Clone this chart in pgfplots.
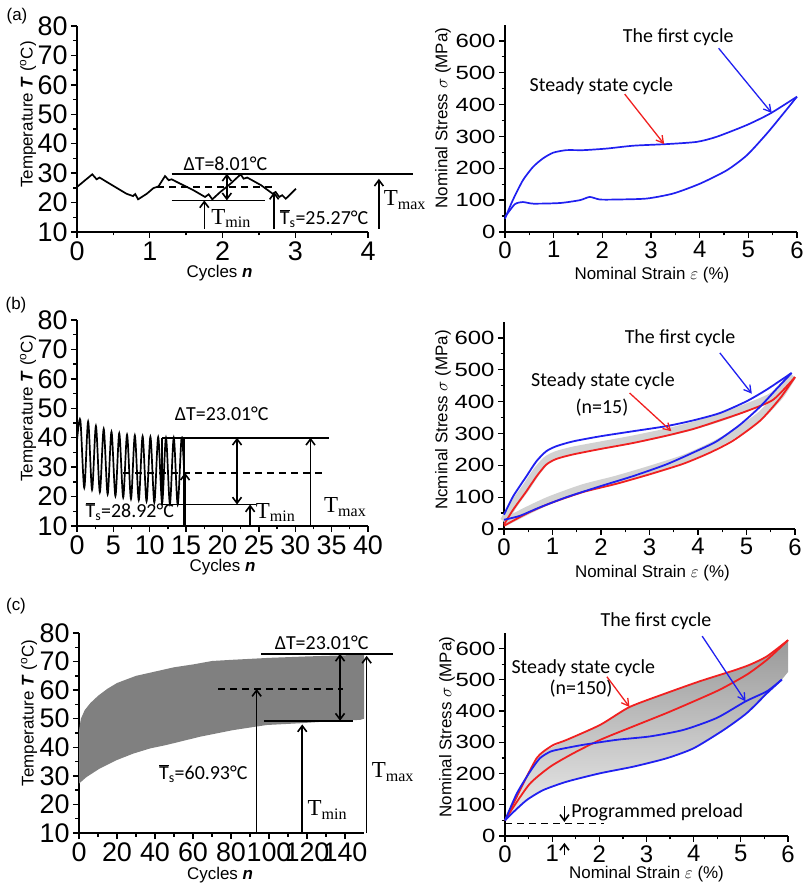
\documentclass[border=0pt]{standalone}
\usepackage{fontspec}
\setmainfont{Liberation Sans}
\newfontfamily\calib{Carlito}
\newfontfamily\tms{Liberation Serif}
\usepackage{pgfplots}
\pgfplotsset{compat=1.18}
\usetikzlibrary{arrows.meta}
\definecolor{cblue}{HTML}{2020F0}
\definecolor{cred}{HTML}{F02020}

\pgfplotsset{
  panel/.style={scale only axis, axis x line*=bottom, axis y line*=left,
    axis line style={line width=1.9bp,-}, tick align=outside,
    major tick length=6bp, minor tick length=3.5bp, minor tick num=1,
    every tick/.style={black, line width=1.3bp},
    /pgf/number format/assume math mode=true,
    clip=false, label style={font=\fontsize{17}{19}\selectfont}},
  tpanel/.style={panel, ymin=10, ymax=80, ytick={10,20,...,80},
    tick label style={font=\fontsize{27}{27}\selectfont},
    ylabel={Temperature \textbf{\textit{T}} (\textsuperscript{o}C)},
    xlabel={Cycles \textbf{\textit{n}}}},
  spanel/.style={panel, xmin=0, xmax=6, ymin=0, ymax=650,
    ytick={0,100,...,600}, xtick={0,...,6},
    xticklabel style={font=\fontsize{24}{24}\selectfont},
    yticklabel style={font=\fontsize{24}{24}\selectfont, yscale=0.8},
    xlabel={Nominal Strain $\varepsilon$ (\%)}},
}
\tikzset{
  ann/.style={font=\calib\fontsize{20}{22}\selectfont},
  tt/.style={font=\tms\fontsize{23}{25}\selectfont},
  ln/.style={line width=1.7bp},
  dsh/.style={line width=1.7bp, dash pattern=on 7bp off 5bp},
  up/.style={line width=1.6bp, -{Straight Barb[length=6bp,width=9bp]}},
  dbl/.style={line width=1.6bp, {Straight Barb[length=6bp,width=9bp]}-{Straight Barb[length=6bp,width=9bp]}},
  carr/.style={line width=1.3bp, -{Straight Barb[length=7bp,width=8bp]}},
}

\begin{document}
\begin{tikzpicture}
\useasboundingbox (0,0) rectangle (803bp,888bp);

\node[font=\fontsize{17}{19}\selectfont] at (17bp,872bp) {(a)};
\node[font=\fontsize{17}{19}\selectfont] at (16bp,583bp) {(b)};
\node[font=\fontsize{17}{19}\selectfont] at (16bp,282bp) {(c)};

% (a) temperature
\begin{axis}[tpanel, at={(77bp,656bp)}, anchor=south west, width=291bp, height=206bp,
  xmin=0, xmax=4, xtick={0,...,4},
  ylabel style={at={(axis description cs:-0.168,0.57)}, anchor=center},
  xlabel style={at={(axis description cs:0.49,-0.2)}, anchor=center}]
\addplot[ln, black] coordinates {(0,25.3)(0.21,29.6)(0.27,27.9)(0.31,28.5)(0.45,26.4)(0.68,23.0)(0.77,22.2)(0.80,22.9)(0.84,21.1)(0.96,23.0)(1.05,24.9)(1.12,25.5)(1.21,29.0)(1.26,27.6)(1.30,27.9)(1.42,26.4)(1.60,24.2)(1.76,21.9)(1.81,22.8)(1.86,21.1)(1.97,23.6)(2.11,26.4)(2.25,29.6)(2.29,28.1)(2.34,28.5)(2.53,25.9)(2.69,23.0)(2.73,23.6)(2.78,21.9)(2.82,22.5)(2.87,21.3)(2.94,23.0)(3.01,24.7)};
\draw[ln] (1.3,29.8) -- (4.62,29.8);
\draw[dsh] (1.1,25.3) -- (2.71,25.3);
\draw[ln] (1.3,20.75) -- (2.59,20.75);
\draw[dbl] (2.06,29.8) -- (2.06,20.75);
\node[ann] at (2.04,33.2) {ΔT=8.01°C};
\draw[up] (1.75,11.1) -- (1.75,20.75);
\node[tt, anchor=west] at (1.8,14.6) {T\textsubscript{min}};
\draw[up] (2.71,11.1) -- (2.71,23.6);
\node[ann, anchor=west] at (2.74,14.6) {$\overline{\mbox{T}}$\textsubscript{s}=25.27°C};
\draw[up] (4.15,11.1) -- (4.15,28.1);
\node[tt, anchor=west] at (4.17,20.75) {T\textsubscript{max}};
\end{axis}

% (a) stress-strain
\begin{axis}[spanel, at={(505bp,656bp)}, anchor=south west, width=292bp, height=207bp,
  ylabel={Nominal Stress $\sigma$ (MPa)},
  ylabel style={at={(axis description cs:-0.212,0.55)}, anchor=center},
  xlabel style={at={(axis description cs:0.503,-0.208)}, anchor=center}]
\addplot[cblue, line width=1.7bp, smooth, tension=0.4] coordinates {(0,42)(0.16,100)(0.37,163)(0.58,205)(0.78,231)(0.99,249)(1.26,257)(1.61,257)(2.09,262)(2.64,271)(3.32,276)(3.94,283)(4.35,299)(4.97,336)(5.45,372)(6.0,425)};
\addplot[cblue, line width=1.7bp, smooth, tension=0.4] coordinates {(6.0,425)(5.72,372)(5.38,309)(4.97,241)(4.56,194)(4.01,152)(3.46,121)(2.91,105)(2.29,102)(1.95,102)(1.74,110)(1.54,100)(1.13,91)(0.58,89)(0.37,94)(0.20,87)(0,47)};
\node[ann] at (3.56,612) {The first cycle};
\draw[carr, cblue] (4.39,577) -- (5.48,374);
\node[ann] at (1.98,458) {Steady state cycle};
\draw[carr, cred] (2.46,433) -- (3.27,276);
\end{axis}

% (b) temperature
\begin{axis}[tpanel, at={(77bp,362bp)}, anchor=south west, width=291bp, height=206bp,
  xmin=0, xmax=40, xtick={0,5,...,40},
  ylabel style={at={(axis description cs:-0.168,0.57)}, anchor=center},
  xlabel style={at={(axis description cs:0.5,-0.2)}, anchor=center}]
\addplot[ln, black, smooth, tension=0.5] coordinates {(0,39)(0.46,46)(1.0,23)(1.53,45.5)(2.07,22.3)(2.60,44)(3.14,21.5)(3.67,43)(4.21,20.8)(4.74,42)(5.28,20.2)(5.81,41.5)(6.35,19.7)(6.88,41)(7.42,19.2)(7.95,40.8)(8.49,18.8)(9.02,40.5)(9.56,18.4)(10.09,40.3)(10.63,18)(11.16,40.2)(11.70,17.7)(12.23,40)(12.77,17.5)(13.30,40)(13.84,17.3)(14.37,40)(14.7,30)};
\draw[ln] (11.7,40) -- (34.7,40);
\draw[ln] (11.7,40) -- (11.7,17.3) -- (24.6,17.3);
\draw[ln] (14.7,10) -- (14.7,40);
\draw[dsh] (6.3,28.1) -- (34.1,28.1);
\draw[up] (14.85,10) -- (14.85,28.1);
\draw[dbl] (22,40) -- (22,17.3);
\node[ann] at (19.9,48.3) {ΔT=23.01°C};
\draw[up] (23.8,10) -- (23.8,17.3);
\node[tt, anchor=west] at (24.1,14.6) {T\textsubscript{min}};
\draw[up] (32.1,10) -- (32.1,40);
\node[tt, anchor=west] at (33.5,16.5) {T\textsubscript{max}};
\node[ann] at (7.25,14.9) {$\overline{\mbox{T}}$\textsubscript{s}=28.92°C};
\end{axis}

% (b) stress-strain
\begin{axis}[spanel, at={(504bp,359bp)}, anchor=south west, width=291bp, height=207bp,
  ylabel={Ncminal Stress $\sigma$ (MPa)},
  ylabel style={at={(axis description cs:-0.21,0.527)}, anchor=center},
  xlabel style={at={(axis description cs:0.51,-0.213)}, anchor=center}]
\addplot[gray!35, line width=8bp, smooth, tension=0.4] coordinates {(0,25)(0.19,75)(0.46,132)(0.67,180)(0.87,215)(1.08,232)(1.42,246)(1.98,262)(2.66,281)(3.35,303)(3.90,324)(4.45,350)(5.0,381)(5.55,418)(5.95,482)};
\addplot[gray!35, line width=8bp, smooth, tension=0.4] coordinates {(5.95,482)(5.69,420)(5.28,355)(4.73,297)(4.25,257)(3.70,220)(3.01,186)(2.32,155)(1.63,128)(0.94,90)(0.46,56)(0,20)};
\addplot[cred, line width=1.8bp, smooth, tension=0.4] coordinates {(0,14)(0.19,61)(0.46,118)(0.67,165)(0.87,202)(1.08,220)(1.42,234)(1.98,251)(2.66,270)(3.35,293)(3.90,314)(4.45,341)(5.0,370)(5.55,406)(6.0,477)};
\addplot[cred, line width=1.8bp, smooth, tension=0.4] coordinates {(6.0,477)(5.69,410)(5.28,340)(4.73,278)(4.25,240)(3.70,205)(3.01,172)(2.32,142)(1.63,116)(0.94,80)(0.46,48)(0,10)};
\addplot[cblue, line width=1.8bp, smooth, tension=0.4] coordinates {(0,45)(0.19,103)(0.46,165)(0.67,213)(0.87,244)(1.08,260)(1.42,275)(1.98,291)(2.66,307)(3.35,323)(3.90,341)(4.45,364)(5.0,401)(5.42,438)(5.93,490)};
\addplot[cblue, line width=1.8bp, smooth, tension=0.4] coordinates {(5.93,490)(5.62,440)(5.28,384)(4.87,328)(4.38,275)(3.90,240)(3.35,203)(2.66,166)(1.98,134)(1.29,100)(0.74,68)(0.32,41)(0,29)};
\node[ann] at (3.63,600) {The first cycle};
\draw[carr, cblue] (4.45,553) -- (5.11,425);
\node[ann] at (2.04,464) {Steady state cycle};
\node[ann] at (2.02,380) {(n=15)};
\draw[carr, cred] (2.59,427) -- (3.45,307);
\end{axis}

% (c) temperature
\begin{axis}[tpanel, at={(79bp,55bp)}, anchor=south west, width=285bp, height=200bp,
  xmin=0, xmax=150, xtick={0,20,...,140},
  ylabel style={at={(axis description cs:-0.175,0.6)}, anchor=center},
  xlabel style={at={(axis description cs:0.495,-0.21)}, anchor=center}]
\addplot[fill=black!50, draw=none] coordinates {(0,46)(1,50)(3,53)(6,55.5)(10,58)(15,60.5)(20,62.5)(30,65)(40,66.5)(50,68)(60,69)(70,70.2)(80,70.6)(100,71.3)(120,71.8)(140,72.2)(150,72.5)(150,50)(148,49.6)(134,49.2)(116,48.4)(98.8,47.8)(81,46)(63.7,43.7)(46,40.8)(37.4,39.6)(28.6,37.8)(19.8,35.5)(11,32.6)(4,29.6)(0,27.3)} -- cycle;
\draw[ln] (95.8,72.7) -- (165.4,72.7);
\draw[ln] (97.5,49.3) -- (144.4,49.3);
\draw[dsh] (73.3,60.4) -- (139,60.4);
\draw[dbl] (137.4,72.7) -- (137.4,49.3);
\node[ann] at (127.7,76.5) {ΔT=23.01°C};
\draw[up] (93.5,10) -- (93.5,60.4);
\node[ann] at (65.4,30.8) {$\overline{\mbox{T}}$\textsubscript{s}=60.93°C};
\draw[up] (117.5,10) -- (117.5,48);
\node[tt, anchor=west] at (118.5,18) {T\textsubscript{min}};
\draw[up] (151.4,10) -- (151.4,72);
\node[tt, anchor=west] at (152.3,31.4) {T\textsubscript{max}};
\end{axis}

% (c) stress-strain
\begin{axis}[spanel, at={(505bp,52bp)}, anchor=south west, width=283bp, height=203bp,
  ylabel={Nominal Stress $\sigma$ (MPa)},
  ylabel style={at={(axis description cs:-0.205,0.537)}, anchor=center},
  xlabel style={at={(axis description cs:0.5,-0.19)}, anchor=center}]
\addplot[draw=none, top color=gray!80, bottom color=gray!15] coordinates {(0,50)(0.25,126)(0.46,190)(0.67,249)(0.81,270)(1.31,308)(2.02,356)(2.64,413)(3.43,458)(4.14,496)(4.85,530)(5.2,549)(5.56,576)(6,627)(6,525)(5.87,501)(5.56,458)(5.13,394)(4.64,340)(4.0,281)(3.43,249)(2.72,222)(2.02,201)(1.31,174)(0.81,147)(0.46,115)(0.18,77)(0,50)} -- cycle;
\addplot[cred, line width=1.8bp, smooth, tension=0.4] coordinates {(0,50)(0.25,126)(0.46,190)(0.67,249)(0.81,270)(1.03,292)(1.31,308)(2.02,356)(2.64,413)(3.43,458)(4.14,496)(4.85,530)(5.2,549)(5.56,576)(6,627)};
\addplot[cred, line width=1.8bp, smooth, tension=0.4] coordinates {(6,627)(5.56,565)(5.13,517)(4.56,469)(4.0,431)(3.43,394)(2.72,351)(2.02,308)(1.45,265)(0.96,222)(0.53,168)(0.18,93)(0,50)};
\addplot[cblue, line width=1.8bp, smooth, tension=0.4] coordinates {(0,50)(0.25,136)(0.53,206)(0.74,249)(0.96,270)(1.17,278)(1.66,292)(2.37,308)(3.08,319)(3.79,340)(4.49,378)(5.10,431)(5.56,464)(5.87,501)};
\addplot[cblue, line width=1.8bp, smooth, tension=0.4] coordinates {(5.87,501)(5.56,458)(5.13,394)(4.64,340)(4.0,281)(3.43,249)(2.72,222)(2.02,201)(1.31,174)(0.81,147)(0.46,115)(0.18,77)(0,50)};
\draw[dsh] (0,40) -- (2.09,40);
\draw[up] (1.26,95) -- (1.26,45);
\node[ann, anchor=west] at (1.33,77) {Programmed preload};
\draw[up] (1.26,-62) -- (1.26,-22);
\node[ann] at (3.2,689) {The first cycle};
\draw[carr, cblue] (4.18,640) -- (5.10,431);
\node[ann] at (1.66,537) {Steady state cycle};
\node[ann] at (1.61,472) {(n=150)};
\draw[carr, cred] (2.16,510) -- (2.64,413);
\end{axis}
\end{tikzpicture}
\end{document}
